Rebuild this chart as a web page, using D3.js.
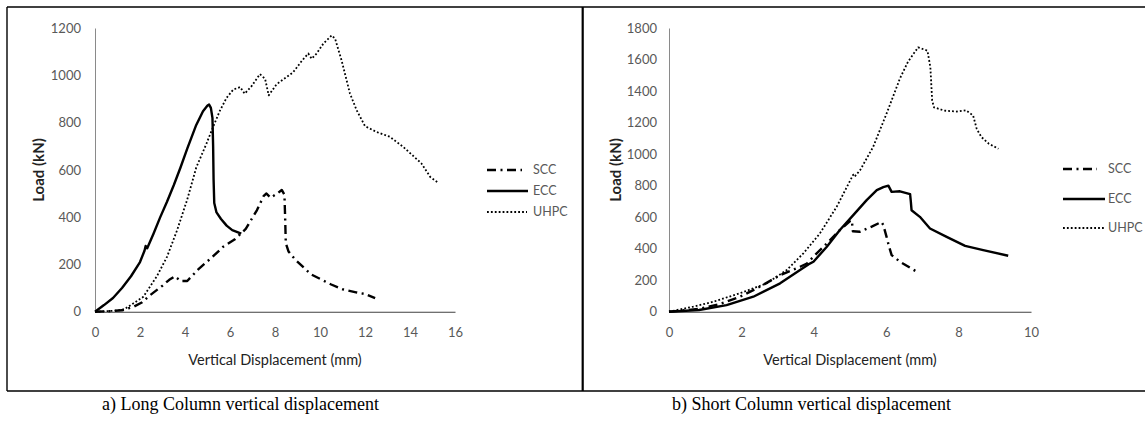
<!DOCTYPE html>
<html><head><meta charset="utf-8">
<script src="https://cdn.jsdelivr.net/npm/d3@7"></script>
<style>body{margin:0;background:#fff}svg{display:block}</style>
</head><body>
<svg id="c" width="1145" height="424"></svg>
<script>
const seriesNames = ["SCC", "ECC", "UHPC"];
const longXTicks = [0, 2, 4, 6, 8, 10, 12, 14, 16];
const longYTicks = [0, 200, 400, 600, 800, 1000, 1200];
const shortXTicks = [0, 2, 4, 6, 8, 10];
const shortYTicks = [0, 200, 400, 600, 800, 1000, 1200, 1400, 1600, 1800];
const xTitle = "Vertical Displacement (mm)";
const yTitle = "Load (kN)";
const captions = ["a) Long Column vertical displacement", "b) Short Column vertical displacement"];

const longSCC = [[0,0],[0.6,2],[1.2,6],[1.7,20],[2.1,40],[2.45,70],[3.0,110],[3.3,135],[3.55,150],[3.8,130],[4.1,130],[4.6,180],[5.2,230],[5.7,275],[6.2,305],[6.7,350],[7.2,430],[7.5,490],[7.62,500],[7.8,482],[8.1,500],[8.3,515],[8.42,495],[8.45,400],[8.48,290],[8.6,255],[8.9,220],[9.6,158],[10.5,115],[11.0,95],[11.6,82],[12.0,75],[12.45,57]];
const longECC = [[0,0],[0.4,28],[0.8,58],[1.2,100],[1.6,150],[2.0,210],[2.2,258],[2.25,278],[2.32,268],[2.6,330],[2.9,400],[3.2,465],[3.5,535],[3.8,610],[4.1,690],[4.5,790],[4.8,848],[5.0,872],[5.07,876],[5.15,862],[5.22,820],[5.25,700],[5.27,560],[5.3,460],[5.4,420],[5.6,392],[5.85,364],[6.1,345],[6.3,338],[6.5,330]];
const longUHPC = [[0,0],[0.5,2],[1.0,5],[1.3,10],[1.7,35],[2.15,63],[2.75,150],[3.2,232],[3.65,345],[4.1,475],[4.5,610],[4.95,710],[5.25,782],[5.55,850],[5.85,905],[6.15,940],[6.45,950],[6.65,922],[6.95,953],[7.33,1005],[7.56,985],[7.72,915],[8.07,962],[8.8,1012],[9.2,1062],[9.48,1092],[9.63,1070],[9.85,1092],[10.15,1134],[10.52,1169],[10.67,1155],[10.96,1063],[11.33,923],[11.63,852],[12.0,785],[12.52,760],[13.1,740],[13.7,697],[14.5,628],[14.9,570],[15.26,545]];

const shortSCC = [[0,0],[0.83,18],[1.41,49],[1.96,95],[2.51,158],[3.07,232],[3.62,285],[3.81,306],[4.08,370],[4.36,433],[4.72,518],[5.0,575],[5.05,580],[5.08,510],[5.27,507],[5.6,540],[5.87,570],[5.92,550],[6.01,475],[6.08,412],[6.15,359],[6.38,317],[6.87,250]];
const shortECC = [[0,0],[0.83,11],[1.59,42],[2.33,95],[3.07,180],[3.62,264],[3.85,300],[3.99,317],[4.36,412],[4.72,518],[5.09,613],[5.46,708],[5.74,771],[5.92,790],[6.06,800],[6.15,760],[6.38,764],[6.66,746],[6.68,700],[6.7,644],[6.93,602],[7.21,528],[7.67,475],[8.18,418],[8.68,391],[9.37,355]];
const shortUHPC = [[0,0],[0.67,32],[1.22,63],[1.96,117],[2.7,180],[3.25,264],[3.71,370],[4.17,497],[4.63,665],[5.0,830],[5.09,870],[5.13,858],[5.28,898],[5.64,1046],[6.01,1257],[6.38,1480],[6.6,1585],[6.88,1677],[7.14,1656],[7.22,1551],[7.27,1340],[7.32,1297],[7.6,1276],[7.95,1270],[8.2,1278],[8.4,1245],[8.5,1160],[8.63,1108],[8.84,1065],[9.1,1034]];

const styles = {
  SCC: {w: 2.4, dash: "9 4.5 2 4.5"},
  ECC: {w: 2.4, dash: null},
  UHPC: {w: 1.8, dash: "1.8 2.1"}
};
const FONT = "Lato, 'Open Sans', sans-serif";
const svg = d3.select("#c");

// frame
const frame = svg.append("g").attr("stroke", "#000").attr("fill", "none");
frame.append("line").attr("x1", 7).attr("x2", 1145).attr("y1", 7).attr("y2", 7).attr("stroke-width", 1.4);
frame.append("line").attr("x1", 7).attr("x2", 1145).attr("y1", 391).attr("y2", 391).attr("stroke-width", 1.4);
frame.append("line").attr("x1", 7).attr("x2", 7).attr("y1", 7).attr("y2", 391).attr("stroke-width", 1.4);
frame.append("line").attr("x1", 582.7).attr("x2", 582.7).attr("y1", 7).attr("y2", 391).attr("stroke-width", 2.2);

const panels = [
  {xd: [0, 16], yd: [0, 1200], xr: [95, 455], xt: longXTicks, yt: longYTicks, data: [longSCC, longECC, longUHPC],
   ytx: 39, labEnd: 81, legX: 487, legLen: [35, 41, 40], legY: [170, 191, 212], legT: 533, cap: captions[0], capX: 102},
  {xd: [0, 10], yd: [0, 1800], xr: [669, 1031], xt: shortXTicks, yt: shortYTicks, data: [shortSCC, shortECC, shortUHPC],
   ytx: 616, labEnd: 657, legX: 1063, legLen: [34, 42, 42], legY: [169, 199, 228], legT: 1108, cap: captions[1], capX: 672}
];

panels.forEach(p => {
  const x = d3.scaleLinear().domain(p.xd).range(p.xr);
  const y = d3.scaleLinear().domain(p.yd).range([311.7, 28]);
  const g = svg.append("g");

  const xa = g.append("g").attr("transform", `translate(0,${y(0)})`)
    .call(d3.axisBottom(x).tickValues(p.xt).tickSize(0).tickPadding(16).tickFormat(d3.format("d")));
  xa.select(".domain").attr("stroke", "#404040").attr("stroke-width", 1.1);
  xa.selectAll("text").attr("font-family", FONT).attr("font-size", 13).attr("fill", "#595959");

  const ya = g.append("g").attr("transform", `translate(${x(0)},0)`)
    .call(d3.axisLeft(y).tickValues(p.yt).tickSize(0).tickPadding(x(0) - p.labEnd).tickFormat(d3.format("d")));
  ya.select(".domain").attr("stroke", "#8a8a8a").attr("stroke-width", 1);
  ya.selectAll("text").attr("font-family", FONT).attr("font-size", 13).attr("fill", "#595959");

  g.append("text").attr("x", (p.xr[0] + p.xr[1]) / 2).attr("y", 365).attr("text-anchor", "middle")
    .attr("font-family", FONT).attr("font-size", 14.5).attr("fill", "#222").text(xTitle);
  g.append("text").attr("transform", `translate(${p.ytx},170) rotate(-90)`).attr("text-anchor", "middle")
    .attr("dy", "0.35em").attr("font-family", FONT).attr("font-size", 15).attr("font-weight", "bold").attr("fill", "#222").text(yTitle);

  const line = d3.line().x(d => x(d[0])).y(d => y(d[1]));
  p.data.forEach((s, i) => {
    const st = styles[seriesNames[i]];
    g.append("path").datum(s).attr("d", line).attr("fill", "none").attr("stroke", "#000")
      .attr("stroke-width", st.w).attr("stroke-dasharray", st.dash).attr("stroke-linejoin", "round");
  });

  seriesNames.forEach((n, i) => {
    const st = styles[n];
    g.append("line").attr("x1", p.legX).attr("x2", p.legX + p.legLen[i]).attr("y1", p.legY[i]).attr("y2", p.legY[i])
      .attr("stroke", "#000").attr("stroke-width", st.w).attr("stroke-dasharray", st.dash);
    g.append("text").attr("x", p.legT).attr("y", p.legY[i]).attr("dy", "0.35em")
      .attr("font-family", FONT).attr("font-size", 12.5).attr("fill", "#595959").text(n);
  });

  svg.append("text").attr("x", p.capX).attr("y", 410).attr("font-family", "'Liberation Serif', 'Times New Roman', serif")
    .attr("font-size", 18).attr("fill", "#000").text(p.cap);
});
</script>
</body></html>
